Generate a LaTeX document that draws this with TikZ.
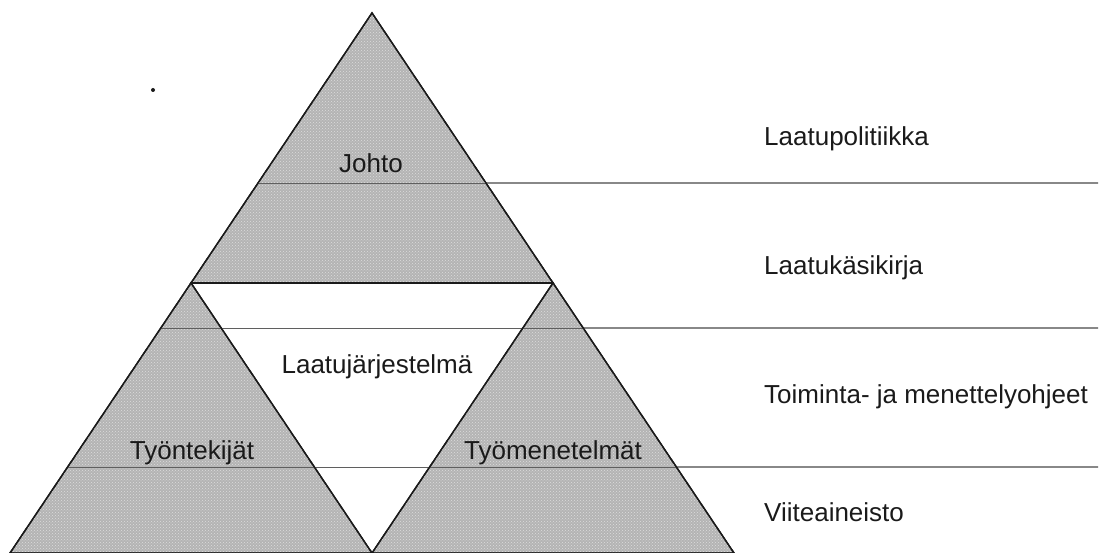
\documentclass[tikz,border=0pt]{standalone}
\usepackage{fontspec}
\setmainfont{Liberation Sans}
\usetikzlibrary{calc,patterns}
\definecolor{shade}{HTML}{B4B4B4}
\definecolor{ink}{HTML}{1A1A1A}
\tikzset{
  part/.style={fill=shade, draw=ink, line width=1.4pt, line join=miter},
  grain/.style={pattern=crosshatch dots, pattern color=white!55!shade},
  level/.style={draw=ink!80, line width=1.1pt},
  inner/.style={draw=ink!70, line width=0.9pt},
  lbl/.style={font=\fontsize{26}{30}\selectfont, text=ink, inner sep=0pt},
  side/.style={lbl, anchor=west},
}
\begin{document}
\begin{tikzpicture}[x=1pt, y=-1pt]
\useasboundingbox (0,0) rectangle (1101,553);
% corners of the whole pyramid and the midpoints of its sides
\coordinate (A) at (372,13);
\coordinate (D) at (10,553);
\coordinate (F) at (734,553);
\coordinate (B) at ($(A)!0.5!(D)$);
\coordinate (C) at ($(A)!0.5!(F)$);
\coordinate (E) at ($(D)!0.5!(F)$);

% the three shaded triangles with a fine grain
\draw[part] (A) -- (B) -- (C) -- cycle;
\draw[part] (B) -- (D) -- (E) -- cycle;
\draw[part] (C) -- (E) -- (F) -- cycle;
\fill[grain] (A) -- (B) -- (C) -- cycle;
\fill[grain] (B) -- (D) -- (E) -- cycle;
\fill[grain] (C) -- (E) -- (F) -- cycle;

% level lines: fainter inside the pyramid, full beyond it
\coordinate (l1a) at ($(A)!{(183-13)/540}!(D)$);
\coordinate (l2a) at ($(A)!{(328-13)/540}!(D)$);
\coordinate (l3a) at ($(A)!{(467-13)/540}!(D)$);
\coordinate (l1b) at ($(A)!{(183-13)/540}!(F)$);
\coordinate (l2b) at ($(A)!{(328-13)/540}!(F)$);
\coordinate (l3b) at ($(A)!{(467-13)/540}!(F)$);
\coordinate (l1e) at (1098,183);
\coordinate (l2e) at (1098,328);
\coordinate (l3e) at (1098,467);
\draw[inner] (l1a) -- (l1b);
\draw[inner] (l2a) -- (l2b);
\draw[inner] (l3a) -- (l3b);
\draw[level] (l1b) -- (l1e);
\draw[level] (l2b) -- (l2e);
\draw[level] (l3b) -- (l3e);

% redraw the edges over the level lines
\draw[part, fill=none] (A) -- (B) -- (C) -- cycle;
\draw[part, fill=none] (B) -- (D) -- (E) -- cycle;
\draw[part, fill=none] (C) -- (E) -- (F) -- cycle;
\draw[draw=ink, line width=2pt] (B) -- (C);

% labels in the pyramid
\node[lbl] (johto) at (371,163) {Johto};
\node[lbl] (jarj) at (377,367) {Laatujärjestelmä};
\node[lbl] (tekijat) at (192,453) {Työntekijät};
\node[lbl] (menet) at (553,453) {Työmenetelmät};

% labels of the levels
\node[side] (pol) at (764,139) {Laatupolitiikka};
\node[side] (kasi) at (764,268) {Laatukäsikirja};
\node[side] (ohj) at (764,397) {Toiminta- ja menettelyohjeet};
\node[side] (viite) at (764,512) {Viiteaineisto};

% small dot
\fill[ink] (153,90) circle (2pt);
\end{tikzpicture}
\end{document}
